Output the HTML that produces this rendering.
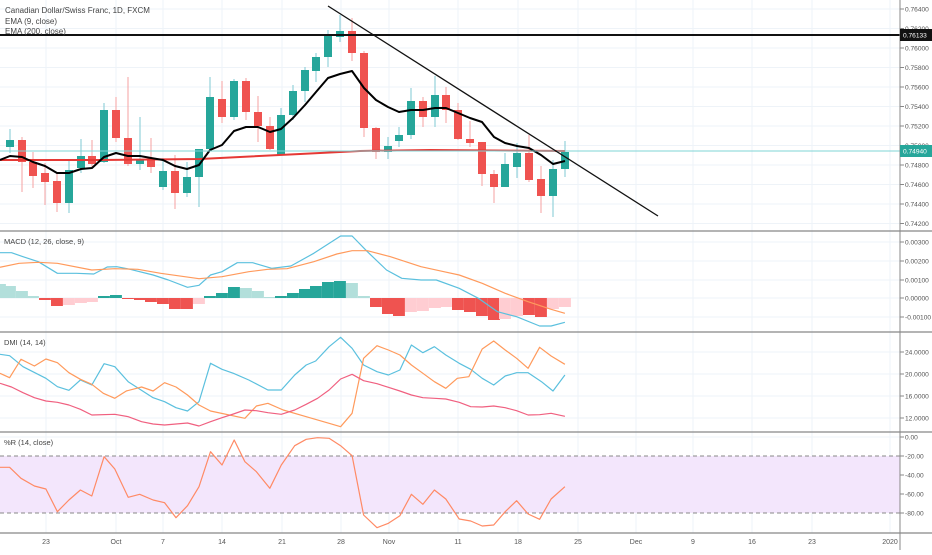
<!DOCTYPE html>
<html><head><meta charset="utf-8"><style>
html,body{margin:0;padding:0;background:#fff;}
svg text{font-family:"Liberation Sans",sans-serif;}
</style></head><body>
<svg id="s" width="932" height="550" xmlns="http://www.w3.org/2000/svg"></svg>
<script>
var S=document.getElementById('s'),h='';
function L(x1,y1,x2,y2,c,w,d){h+='<line x1="'+x1+'" y1="'+y1+'" x2="'+x2+'" y2="'+y2+'" stroke="'+c+'" stroke-width="'+(w||1)+'"'+(d?' stroke-dasharray="'+d+'"':'')+'/>';}
function R(x,y,w,hh,c){h+='<rect x="'+x+'" y="'+y+'" width="'+w+'" height="'+hh+'" fill="'+c+'"/>';}
function T(x,y,t,c,s,a){h+='<text x="'+x+'" y="'+y+'" fill="'+(c||'#555')+'" font-size="'+(s||8)+'"'+(a?' text-anchor="'+a+'"':'')+'>'+t+'</text>';}
function P(pts,c,w){h+='<polyline fill="none" stroke="'+c+'" stroke-width="'+(w||1)+'" stroke-linejoin="round" points="'+pts.map(function(p){return p[0].toFixed(1)+','+p[1].toFixed(1)}).join(' ')+'"/>';}
function Z(a,oy){var r=[];for(var i=0;i<a.length;i+=2)r.push([a[i]/2.613,oy+a[i+1]/3]);return r;}
var G='#eef3f8';
[46,116,163,222,282,341,389,458,518,578,636,693,752,812,890].forEach(function(x){L(x,0,x,533,G);});
for(var i=0;i<12;i++){var y=9+i*19.5;L(0,y,900,y,G);}
[242,261,280,298,317].forEach(function(y){L(0,y,900,y,G);});
[352,374,396,418].forEach(function(y){L(0,y,900,y,G);});
[437,475,494].forEach(function(y){L(0,y,900,y,G);});
R(0,456,900,57,'#f3e6fc');
L(0,456,900,456,'#888',1,'4,3');L(0,513,900,513,'#888',1,'4,3');
var C=[[10,147,140,129,153],[22,140,162,137,192],[33,162,176,152,188],[45,173,182,163,205],[57,181,203,173,212],[69,203,170,160,213],[81,168,156,139,173],[92,156,164,140,167],[104,162,110,103,163],[116,110,138,97,142],[128,138,164,77,166],[140,164,159,117,170],[151,160,167,138,173],[163,187,171,158,190],[175,171,193,155,209],[187,193,177,162,197],[199,177,149,149,207],[210,149,97,77,150],[222,99,117,81,123],[234,117,81,79,120],[246,81,112,78,120],[258,112,126,96,142],[270,126,149,117,150],[281,155,115,108,155],[293,115,91,85,120],[305,91,70,67,102],[316,71,57,53,82],[328,57,35,30,67],[340,37,31,15,42],[352,31,53,18,61],[364,53,128,51,137],[376,128,152,127,159],[388,152,146,137,159],[399,141,135,127,147],[411,135,101,88,139],[423,101,117,97,127],[435,117,95,76,127],[446,95,110,87,123],[458,110,139,103,140],[470,139,143,121,147],[482,142,174,142,186],[494,174,187,170,203],[505,187,164,153,187],[517,167,153,143,178],[529,153,180,135,182],[541,179,196,166,213],[553,196,169,160,217],[565,169,152,141,177]];
C.forEach(function(c){var up=c[2]<c[1];var col=up?'#26a69a':'#ef5350';var wc=up?'#7fcad3':'#f5a0a0';L(c[0],c[3],c[0],c[4],wc,1);var t=Math.min(c[1],c[2]),b=Math.max(c[1],c[2]);R(c[0]-4,t,8,Math.max(b-t,1.5),col);});
P([[0,160],[100,160],[200,159],[300,154],[360,151],[430,150],[565,151]],'#e53935',2);
P([[0,160],[10,156],[22,157],[33,162],[45,166],[57,173],[69,173],[81,169],[92,168],[104,157],[116,153],[128,156],[140,156],[151,158],[163,160],[175,166],[187,169],[199,165],[210,150],[222,145],[234,131],[246,127],[258,127],[270,132],[281,129],[293,118],[305,105],[316,92],[328,78],[340,74],[352,71],[364,88],[376,100],[388,107],[399,112],[411,110],[423,110],[435,108],[446,108],[458,113],[470,118],[482,122],[494,137],[505,143],[517,146],[529,148],[541,155],[553,164],[565,161]],'#000',2);
L(0,151,900,151,'#7fd4d6',1);
L(0,35,900,35,'#111',2);
L(328,6,658,216,'#111',1.3);
var Hh=[[0,284,'l'],[10,286,'l'],[22,291,'l'],[33,296,'l'],[45,300,'r'],[57,306,'r'],[69,305,'p'],[81,303,'p'],[92,302,'p'],[104,296,'t'],[116,295,'t'],[128,299,'r'],[140,300,'r'],[151,302,'r'],[163,304,'r'],[175,309,'r'],[187,309,'r'],[199,304,'p'],[210,296,'t'],[222,293,'t'],[234,287,'t'],[246,288,'l'],[258,291,'l'],[270,297,'l'],[281,296,'t'],[293,293,'t'],[305,289,'t'],[316,286,'t'],[328,282,'t'],[340,281,'t'],[352,283,'l'],[364,296,'l'],[376,307,'r'],[388,314,'r'],[399,316,'r'],[411,312,'p'],[423,311,'p'],[435,308,'p'],[446,307,'p'],[458,310,'r'],[470,312,'r'],[482,316,'r'],[494,320,'r'],[505,319,'p'],[517,316,'p'],[529,315,'r'],[541,317,'r'],[553,309,'p'],[565,307,'p']];
var HC={l:'#b2dfdb',t:'#26a69a',r:'#ef5350',p:'#ffcdd2'};
Hh.forEach(function(b){var t=Math.min(b[1],298),bb=Math.max(b[1],298);R(b[0]-6,t,11.9,Math.max(bb-t,1),HC[b[2]]);});
P(Z([0,98,30,98,60,110,100,125,150,160,200,160,245,162,280,141,305,140,340,148,400,165,440,180,490,202,520,196,550,165,580,155,620,128,660,128,710,145,760,138,820,100,890,48,920,48,960,95,1010,150,1050,175,1100,180,1140,180,1200,205,1250,235,1300,275,1350,290,1410,318,1440,318,1476,307],220),'#5bc0de',1.2);
P(Z([0,142,50,130,100,127,150,130,240,150,300,146,360,148,420,160,520,176,580,170,650,155,700,148,750,146,820,125,880,102,920,92,960,92,1020,110,1100,140,1160,155,1200,165,1260,190,1320,220,1380,245,1440,268,1476,280],220),'#ff9a5c',1.2);
P(Z([0,88,25,92,60,125,120,160,150,185,180,196,210,165,240,180,272,116,300,125,335,170,400,218,430,230,460,248,490,258,520,230,550,115,580,133,610,145,650,165,700,195,735,195,770,150,800,120,825,108,860,65,890,37,920,70,950,120,985,140,1015,150,1045,135,1075,60,1105,83,1135,65,1165,90,1200,115,1230,133,1260,160,1290,180,1320,153,1350,143,1380,143,1415,170,1445,198,1476,150],325),'#5bc0de',1.2);
P(Z([0,145,25,158,55,103,90,123,120,102,150,113,180,143,210,163,240,178,270,205,300,220,330,198,370,186,400,198,430,173,460,186,490,210,520,240,550,258,640,280,670,243,700,235,740,255,800,275,860,295,890,305,920,265,950,100,985,62,1015,75,1045,90,1075,120,1105,145,1135,170,1165,190,1195,160,1225,155,1260,72,1290,48,1320,75,1350,100,1380,130,1410,67,1440,93,1476,118],325),'#ff9a5c',1.2);
P(Z([0,175,30,186,60,203,90,218,120,228,150,232,180,240,210,253,240,270,300,268,335,275,370,290,400,297,430,300,460,297,490,294,520,303,550,290,580,278,610,267,640,255,670,257,700,263,735,268,770,255,800,238,830,220,860,195,890,162,920,148,950,167,985,176,1015,187,1045,198,1075,210,1105,218,1135,220,1165,222,1200,232,1230,245,1260,246,1290,243,1320,248,1350,257,1380,270,1410,269,1440,265,1476,274],325),'#f06080',1.2);
P(Z([0,427,25,427,55,460,90,483,120,492,150,560,180,525,210,495,240,513,272,395,300,432,335,517,365,508,400,525,430,533,460,578,490,542,520,485,550,380,580,420,612,345,640,410,670,440,705,490,735,420,770,362,800,343,830,338,860,340,890,362,920,392,950,570,985,608,1015,595,1045,572,1075,508,1105,538,1135,495,1165,522,1200,582,1230,588,1260,603,1290,600,1320,560,1350,527,1380,567,1410,583,1440,522,1476,485],325),'#ff8a65',1.2);
[231,332,432,533].forEach(function(y){L(0,y,932,y,'#888',1.2);});
L(900,0,900,550,'#888',1);
var FS=6.6;
['0.76400','0.76200','0.76000','0.75800','0.75600','0.75400','0.75200','0.75000','0.74800','0.74600','0.74400','0.74200'].forEach(function(t,i){var y=9+i*19.5;if(y<228){L(900,y,904,y,'#888');T(905,y+2.5,t,'#555',FS);}});
[['0.00300',242],['0.00200',261],['0.00100',280],['0.00000',298],['-0.00100',317]].forEach(function(a){L(900,a[1],904,a[1],'#888');T(905,a[1]+2.5,a[0],'#555',FS);});
[['24.0000',352],['20.0000',374],['16.0000',396],['12.0000',418]].forEach(function(a){L(900,a[1],904,a[1],'#888');T(905,a[1]+2.5,a[0],'#555',FS);});
[['0.00',437],['-20.00',456],['-40.00',475],['-60.00',494],['-80.00',513]].forEach(function(a){L(900,a[1],904,a[1],'#888');T(905,a[1]+2.5,a[0],'#555',FS);});
R(900,29,32,12,'#111');T(903,37.5,'0.76133','#fff',FS);
R(900,145,32,12,'#26a69a');T(903,153.5,'0.74940','#fff',FS);
[['23',46],['Oct',116],['7',163],['14',222],['21',282],['28',341],['Nov',389],['11',458],['18',518],['25',578],['Dec',636],['9',693],['16',752],['23',812],['2020',890]].forEach(function(a){T(a[1],544,a[0],'#555',7,'middle');});
T(5,13,'Canadian Dollar/Swiss Franc, 1D, FXCM','#444',8);
T(5,24,'EMA (9, close)','#444',8);
T(5,34,'EMA (200, close)','#444',8);
T(4,244,'MACD (12, 26, close, 9)','#444',7.5);
T(4,345,'DMI (14, 14)','#444',7.5);
T(4,445,'%R (14, close)','#444',7.5);
S.innerHTML=h;
</script>
</body></html>
